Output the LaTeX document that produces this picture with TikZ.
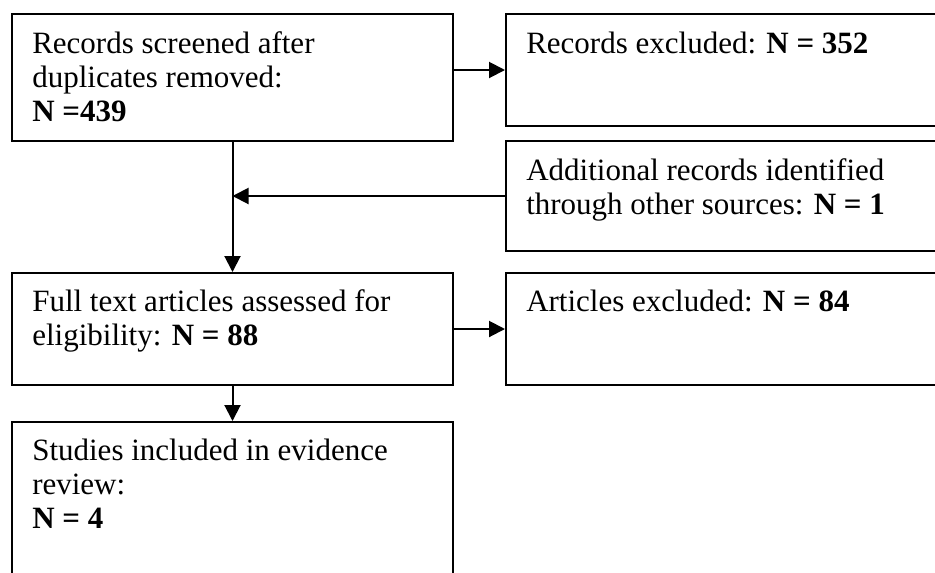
\documentclass[tikz,border=0pt]{standalone}
\usepackage{fontspec}
\setmainfont{Liberation Serif}
\usetikzlibrary{arrows.meta}
\newcommand{\mylines}[1]{\begin{tabular}[t]{@{}l@{}}#1\end{tabular}}
\begin{document}
\begin{tikzpicture}[x=0.75pt,y=-0.75pt,
  box/.style={draw=black,line width=1.5pt,rectangle,inner sep=0pt,anchor=north west,minimum width=#1},
  txt/.style={anchor=base west,inner sep=0pt,font=\fontsize{23.25pt}{25.5pt}\selectfont},
  arr/.style={line width=1.5pt,-{Triangle[length=12pt,width=12pt]}}]
\useasboundingbox (0,0) rectangle (935,572);
\node[box=441*0.75pt,minimum height=127*0.75pt] (b1) at (11,13) {};
\node[box=500*0.75pt,minimum height=112*0.75pt] (b2) at (505,13) {};
\node[box=500*0.75pt,minimum height=110*0.75pt] (b3) at (505,140) {};
\node[box=441*0.75pt,minimum height=112*0.75pt] (b4) at (11,272) {};
\node[box=500*0.75pt,minimum height=112*0.75pt] (b5) at (505,272) {};
\node[box=441*0.75pt,minimum height=200*0.75pt] (b6) at (11,421) {};
\node[txt] (t1) at ([shift={(21,40)}]b1.north west) {\mylines{Records screened after\\duplicates removed:\\\textbf{N =439}}};
\node[txt] (t2) at ([shift={(21,40)}]b2.north west) {\mylines{Records excluded: \textbf{N = 352}}};
\node[txt] (t3) at ([shift={(21,40)}]b3.north west) {\mylines{Additional records identified\\through other sources: \textbf{N = 1}}};
\node[txt] (t4) at ([shift={(21,39)}]b4.north west) {\mylines{Full text articles assessed for\\eligibility: \textbf{N = 88}}};
\node[txt] (t5) at ([shift={(21,39)}]b5.north west) {\mylines{Articles excluded: \textbf{N = 84}}};
\node[txt] (t6) at ([shift={(21,39)}]b6.north west) {\mylines{Studies included in evidence\\review:\\\textbf{N = 4}}};
\draw[arr] (b2.west -| b1.east) -- (b2.west);
\draw[arr] (b3.west) -- (b3.west -| b1.south);
\draw[arr] (b1.south) -- (b4.north);
\draw[arr] (b4.east) -- (b5.west);
\draw[arr] (b4.south) -- (b6.north);
\end{tikzpicture}
\end{document}
